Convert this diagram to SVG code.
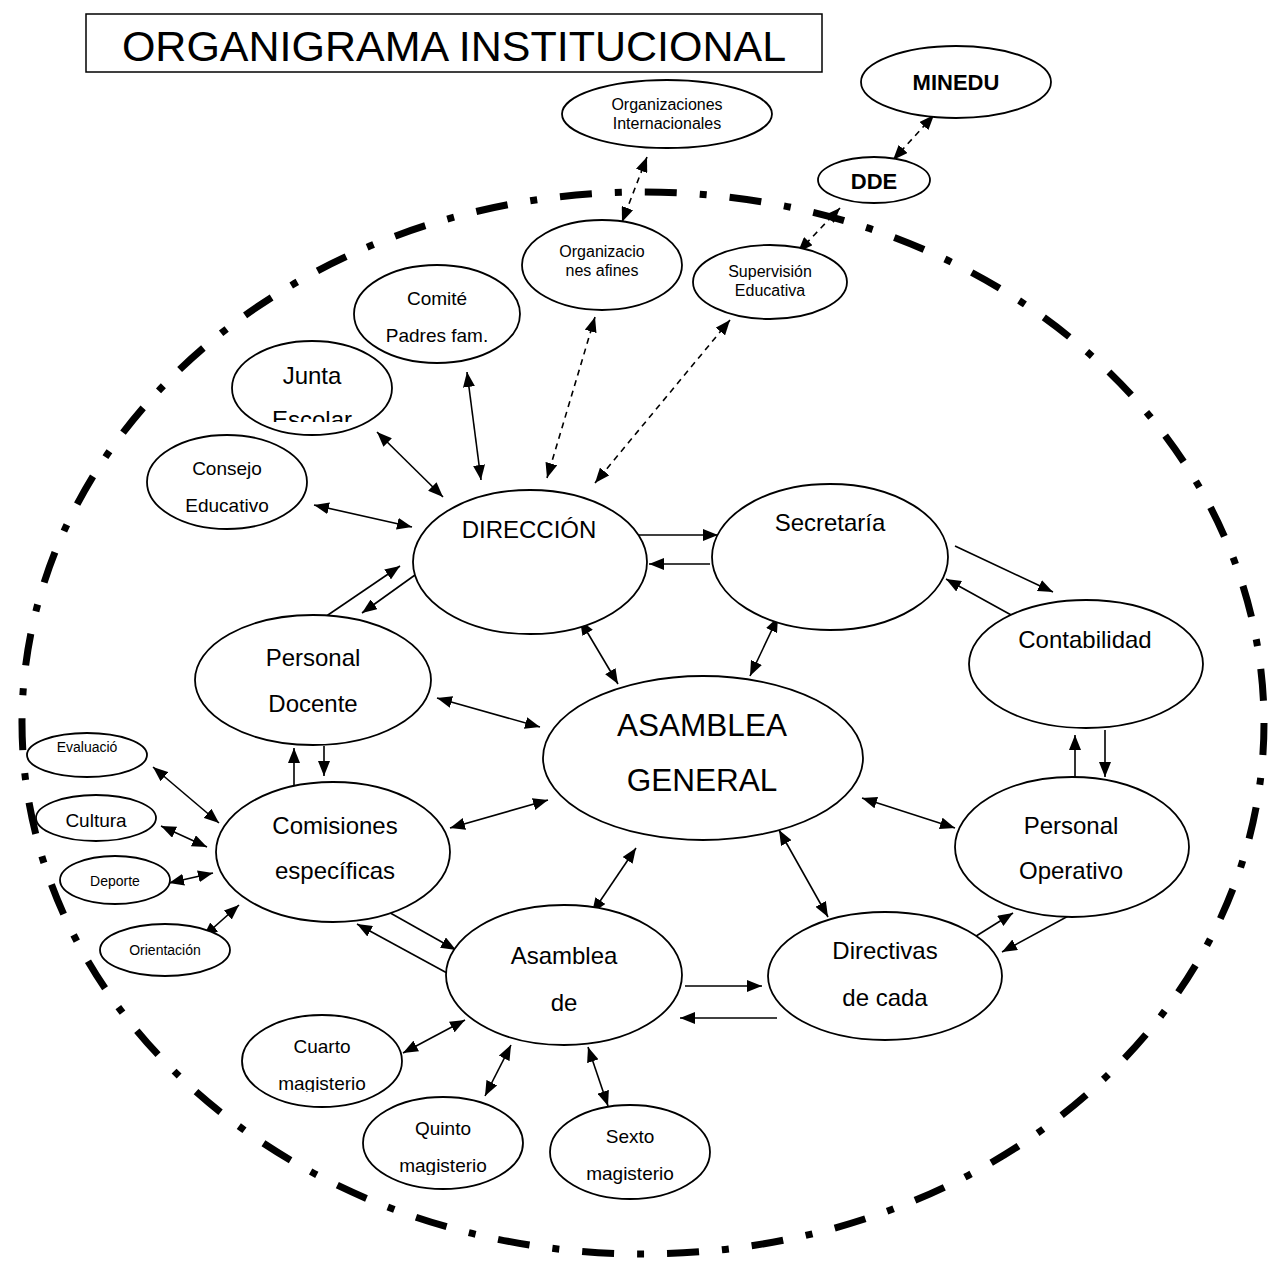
<svg xmlns="http://www.w3.org/2000/svg" width="1269" height="1262" viewBox="0 0 1269 1262">
<style>
.n{fill:#fff;stroke:#000;stroke-width:1.8}
.t{font-family:"Liberation Sans",Arial,sans-serif;fill:#000;text-anchor:middle}
.c{stroke:#000;stroke-width:1.6;fill:none}
.d{stroke-dasharray:6 5}
.s1{marker-end:url(#ah)}
.s2{marker-start:url(#ah);marker-end:url(#ah)}
</style>
<defs>
<marker id="ah" viewBox="0 0 15 12" refX="15" refY="6" markerWidth="15" markerHeight="12" markerUnits="userSpaceOnUse" orient="auto-start-reverse"><path d="M0,0 L15,6 L0,12 z" fill="#000"/></marker>
<clipPath id="cJ"><rect x="0" y="0" width="1269" height="422"/></clipPath>
<clipPath id="cC"><rect x="0" y="0" width="1269" height="1092"/></clipPath>
<clipPath id="cQ"><rect x="0" y="0" width="1269" height="1175"/></clipPath>
</defs>
<rect width="1269" height="1262" fill="#fff"/>
<g id="title"><rect x="86" y="14" width="736" height="58" fill="#fff" stroke="#000" stroke-width="1.5"/><text class="t" x="454" y="61" font-size="43">ORGANIGRAMA INSTITUCIONAL</text></g>
<ellipse id="boundary" cx="643" cy="723" rx="621" ry="531" fill="none" stroke="#000" stroke-width="7" stroke-dasharray="32 23 7 23"/>
<g id="connectors">
<line class="c d s2" x1="934" y1="115" x2="893" y2="160"/>
<line class="c d s2" x1="840" y1="208" x2="798" y2="252"/>
<line class="c d s2" x1="647" y1="157" x2="622" y2="222"/>
<line class="c d s2" x1="595" y1="317" x2="547" y2="478"/>
<line class="c d s2" x1="730" y1="320" x2="595" y2="483"/>
<line class="c s2" x1="467" y1="372" x2="481" y2="480"/>
<line class="c s2" x1="377" y1="432" x2="443" y2="497"/>
<line class="c s2" x1="314" y1="505" x2="412" y2="527"/>
<line class="c s1" x1="628" y1="535" x2="718" y2="535"/>
<line class="c s1" x1="710" y1="564" x2="649" y2="564"/>
<line class="c s1" x1="955" y1="546" x2="1053" y2="592"/>
<line class="c s1" x1="1013" y1="616" x2="946" y2="579"/>
<line class="c s2" x1="580" y1="620" x2="618" y2="684"/>
<line class="c s2" x1="778" y1="617" x2="750" y2="676"/>
<line class="c s1" x1="325" y1="617" x2="400" y2="566"/>
<line class="c s1" x1="415" y1="575" x2="362" y2="613"/>
<line class="c s2" x1="437" y1="698" x2="540" y2="727"/>
<line class="c s1" x1="294" y1="790" x2="294" y2="748"/>
<line class="c s1" x1="324" y1="746" x2="324" y2="776"/>
<line class="c s2" x1="450" y1="828" x2="548" y2="800"/>
<line class="c s1" x1="1075" y1="785" x2="1075" y2="735"/>
<line class="c s1" x1="1105" y1="730" x2="1105" y2="777"/>
<line class="c s2" x1="862" y1="798" x2="955" y2="828"/>
<line class="c s2" x1="636" y1="848" x2="592" y2="913"/>
<line class="c s2" x1="779" y1="830" x2="828" y2="917"/>
<line class="c s1" x1="685" y1="986" x2="762" y2="986"/>
<line class="c s1" x1="777" y1="1018" x2="680" y2="1018"/>
<line class="c s1" x1="973" y1="938" x2="1013" y2="913"/>
<line class="c s1" x1="1072" y1="914" x2="1002" y2="952"/>
<line class="c s1" x1="385" y1="910" x2="456" y2="950"/>
<line class="c s1" x1="447" y1="973" x2="357" y2="924"/>
<line class="c s2" x1="153" y1="767" x2="219" y2="823"/>
<line class="c s2" x1="161" y1="826" x2="207" y2="847"/>
<line class="c s2" x1="169" y1="883" x2="213" y2="873"/>
<line class="c s2" x1="203" y1="937" x2="239" y2="905"/>
<line class="c s2" x1="403" y1="1053" x2="465" y2="1020"/>
<line class="c s2" x1="485" y1="1096" x2="511" y2="1045"/>
<line class="c s2" x1="588" y1="1047" x2="608" y2="1106"/>
</g>
<g id="minedu"><ellipse class="n" cx="956" cy="82" rx="95" ry="36"/><text class="t" x="956" y="90" font-size="22" font-weight="bold">MINEDU</text></g>
<g id="dde"><ellipse class="n" cx="874" cy="180" rx="56" ry="23"/><text class="t" x="874" y="189" font-size="22" font-weight="bold">DDE</text></g>
<g id="org-internacionales"><ellipse class="n" cx="667" cy="114" rx="105" ry="34"/><text class="t" x="667" y="110" font-size="16">Organizaciones</text><text class="t" x="667" y="129" font-size="16">Internacionales</text></g>
<g id="org-afines"><ellipse class="n" cx="602" cy="265" rx="80" ry="45"/><text class="t" x="602" y="257" font-size="16">Organizacio</text><text class="t" x="602" y="276" font-size="16">nes afines</text></g>
<g id="supervision"><ellipse class="n" cx="770" cy="282" rx="77" ry="37"/><text class="t" x="770" y="277" font-size="16">Supervisión</text><text class="t" x="770" y="296" font-size="16">Educativa</text></g>
<g id="comite"><ellipse class="n" cx="437" cy="314" rx="83" ry="49"/><text class="t" x="437" y="305" font-size="19">Comité</text><text class="t" x="437" y="342" font-size="19">Padres fam.</text></g>
<g id="junta"><ellipse class="n" cx="312" cy="388" rx="80" ry="47"/><text class="t" x="312" y="384" font-size="24">Junta</text><text class="t" x="312" y="428" font-size="24" clip-path="url(#cJ)">Escolar</text></g>
<g id="consejo"><ellipse class="n" cx="227" cy="482" rx="80" ry="47"/><text class="t" x="227" y="475" font-size="19">Consejo</text><text class="t" x="227" y="512" font-size="19">Educativo</text></g>
<g id="direccion"><ellipse class="n" cx="530" cy="562" rx="117" ry="72"/><text class="t" x="529" y="538" font-size="24">DIRECCIÓN</text></g>
<g id="secretaria"><ellipse class="n" cx="830" cy="557" rx="118" ry="73"/><text class="t" x="830" y="531" font-size="24">Secretaría</text></g>
<g id="contabilidad"><ellipse class="n" cx="1086" cy="664" rx="117" ry="64"/><text class="t" x="1085" y="648" font-size="24">Contabilidad</text></g>
<g id="personal-docente"><ellipse class="n" cx="313" cy="680" rx="118" ry="65"/><text class="t" x="313" y="666" font-size="24">Personal</text><text class="t" x="313" y="712" font-size="24">Docente</text></g>
<g id="asamblea-general"><ellipse class="n" cx="703" cy="758" rx="160" ry="82"/><text class="t" x="702" y="736" font-size="31.5">ASAMBLEA</text><text class="t" x="702" y="791" font-size="31.5">GENERAL</text></g>
<g id="comisiones"><ellipse class="n" cx="333" cy="852" rx="117" ry="70"/><text class="t" x="335" y="834" font-size="24">Comisiones</text><text class="t" x="335" y="879" font-size="24">específicas</text></g>
<g id="personal-operativo"><ellipse class="n" cx="1072" cy="847" rx="117" ry="70"/><text class="t" x="1071" y="834" font-size="24">Personal</text><text class="t" x="1071" y="879" font-size="24">Operativo</text></g>
<g id="asamblea-de"><ellipse class="n" cx="564" cy="975" rx="118" ry="70"/><text class="t" x="564" y="964" font-size="24">Asamblea</text><text class="t" x="564" y="1011" font-size="24">de</text></g>
<g id="directivas"><ellipse class="n" cx="885" cy="976" rx="117" ry="64"/><text class="t" x="885" y="959" font-size="24">Directivas</text><text class="t" x="885" y="1006" font-size="24">de cada</text></g>
<g id="evaluacion"><ellipse class="n" cx="87" cy="755" rx="60" ry="22"/><text class="t" x="87" y="752" font-size="14">Evaluació</text></g>
<g id="cultura"><ellipse class="n" cx="96" cy="818" rx="60" ry="23"/><text class="t" x="96" y="827" font-size="19">Cultura</text></g>
<g id="deporte"><ellipse class="n" cx="115" cy="880" rx="55" ry="24"/><text class="t" x="115" y="886" font-size="14">Deporte</text></g>
<g id="orientacion"><ellipse class="n" cx="165" cy="950" rx="65" ry="26"/><text class="t" x="165" y="955" font-size="14">Orientación</text></g>
<g id="cuarto"><ellipse class="n" cx="322" cy="1061" rx="80" ry="46"/><text class="t" x="322" y="1053" font-size="19">Cuarto</text><text class="t" x="322" y="1090" font-size="19" clip-path="url(#cC)">magisterio</text></g>
<g id="quinto"><ellipse class="n" cx="443" cy="1143" rx="80" ry="46"/><text class="t" x="443" y="1135" font-size="19">Quinto</text><text class="t" x="443" y="1172" font-size="19" clip-path="url(#cQ)">magisterio</text></g>
<g id="sexto"><ellipse class="n" cx="630" cy="1152" rx="80" ry="47"/><text class="t" x="630" y="1143" font-size="19">Sexto</text><text class="t" x="630" y="1180" font-size="19">magisterio</text></g>
</svg>
